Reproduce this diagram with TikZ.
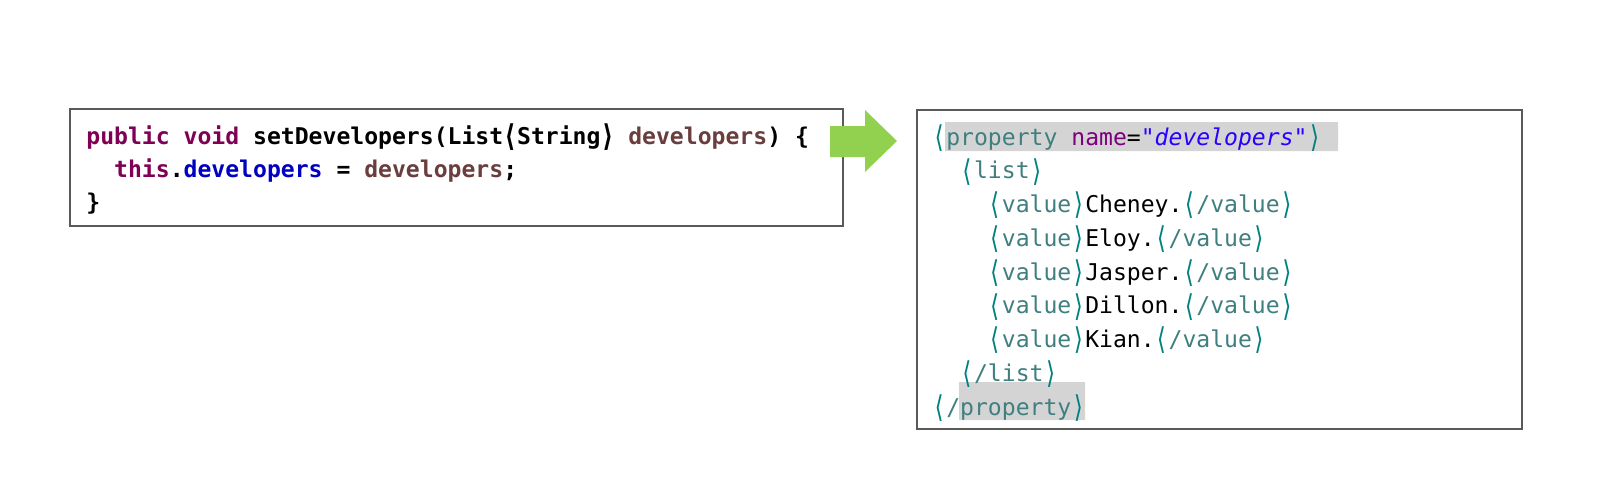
\documentclass[tikz,border=0pt]{standalone}
\usepackage{fontspec}
\usepackage{graphicx}
\usetikzlibrary{positioning}
\newfontfamily\codefont{DejaVu Sans Mono}
\definecolor{kw}{HTML}{7F0055}
\definecolor{par}{HTML}{6A3E3E}
\definecolor{fld}{HTML}{0000C0}
\definecolor{brk}{HTML}{008080}
\definecolor{tagc}{HTML}{3F7F7F}
\definecolor{attr}{HTML}{7F007F}
\definecolor{strc}{HTML}{2A00FF}
\definecolor{boxgray}{HTML}{595959}
\definecolor{hlgray}{HTML}{D4D4D4}
\definecolor{arrowgreen}{HTML}{92D050}
\newcommand{\tallch}[1]{\raisebox{-0.1em}{\scalebox{1}[1.3]{#1}}}
\newcommand{\lab}{\textcolor{brk}{\tallch{⟨}}}
\newcommand{\rab}{\textcolor{brk}{\tallch{⟩}}}
\newcommand{\xtag}[1]{\lab\textcolor{tagc}{#1}\rab}
\newcommand{\xend}[1]{\lab\textcolor{tagc}{/#1}\rab}
\tikzset{
  codeline/.style={anchor=base west, inner sep=0pt, font=\codefont\fontsize{11.54}{14}\selectfont},
  javaline/.style={codeline, font=\codefont\fontsize{11.54}{14}\selectfont\bfseries},
  codebox/.style={draw=boxgray, line width=1pt},
}

\begin{document}
\begin{tikzpicture}[x=0.5pt,y=-0.5pt]
  \useasboundingbox (0,0) rectangle (1597,499);
  % boxes
  \draw[codebox] (70,109) rectangle (843,226);
  \draw[codebox] (917,110) rectangle (1522,429);
  \fill[hlgray] (945,122) rectangle (1338,151) (959,382) rectangle (1085,420);
  % java setter
  \node[javaline] (j1) at (86,144) {\textcolor{kw}{public void} setDevelopers(List\tallch{⟨}String\tallch{⟩} \textcolor{par}{developers}) \{};
  \node[javaline] (j2) at (86,177.3) {\phantom{xx}\textcolor{kw}{this}.\textcolor{fld}{developers} = \textcolor{par}{developers};};
  \node[javaline] (j3) at (86,210.6) {\}};
  % xml
  \node[codeline] (x1) at (932,145) {\lab\textcolor{tagc}{property} \textcolor{attr}{name}=\textcolor{strc}{\itshape"developers"}\rab};
  \node[codeline] (x2) at (932,178.75) {\phantom{xx}\xtag{list}};
  \node[codeline] (x3) at (932,212.5) {\phantom{xxxx}\xtag{value}Cheney.\xend{value}};
  \node[codeline] (x4) at (932,246.25) {\phantom{xxxx}\xtag{value}Eloy.\xend{value}};
  \node[codeline] (x5) at (932,280) {\phantom{xxxx}\xtag{value}Jasper.\xend{value}};
  \node[codeline] (x6) at (932,313.75) {\phantom{xxxx}\xtag{value}Dillon.\xend{value}};
  \node[codeline] (x7) at (932,347.5) {\phantom{xxxx}\xtag{value}Kian.\xend{value}};
  \node[codeline] (x8) at (932,381.25) {\phantom{xx}\xend{list}};
  \node[codeline] (x9) at (932,415) {\xend{property}};
  % arrow
  \fill[arrowgreen] (830,126) -- (865,126) -- (865,110) -- (897,141) -- (865,172) -- (865,157) -- (830,157) -- cycle;
\end{tikzpicture}
\end{document}
